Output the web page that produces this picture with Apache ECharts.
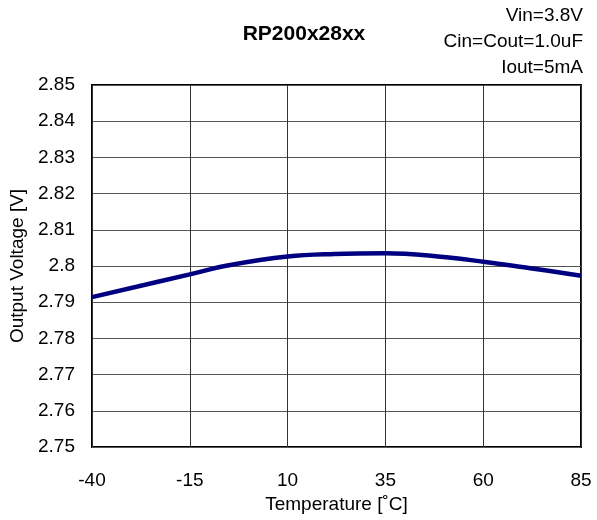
<!DOCTYPE html>
<html>
<head>
<meta charset="utf-8">
<script src="https://cdn.jsdelivr.net/npm/echarts@6/dist/echarts.min.js"></script>
<style>
  html, body { margin: 0; padding: 0; background: #fff; }
  #chart { width: 597px; height: 520px; }
</style>
</head>
<body>
<div id="chart"></div>
<script>
// 温度 [°C]
const temps = [-40, -15, -5, 10, 22, 35, 46, 60, 72, 85];
// 出力電圧 [V]
const vout = [2.7914, 2.7977, 2.8002, 2.8026, 2.8033, 2.8035, 2.8029, 2.8012, 2.7994, 2.7973];
const xTicks = [-40, -15, 10, 35, 60, 85];
const notes = ['Vin=3.8V', 'Cin=Cout=1.0uF', 'Iout=5mA'];

const FONT = '"Liberation Sans", Arial, sans-serif';
const chart = echarts.init(document.getElementById('chart'));

const option = {
    animation: false,
    textStyle: { fontFamily: FONT },
    title: {
        text: 'RP200x28xx',
        left: 299,
        top: 19,
        textAlign: 'center',
        textStyle: { fontSize: 21, fontWeight: 'bold', color: '#000', fontFamily: FONT }
    },
    graphic: notes.map((t, i) => ({
        type: 'text',
        right: 14,
        top: 6 + i * 26,
        style: { text: t, fontSize: 19, fill: '#000', fontFamily: FONT, align: 'right' }
    })),
    grid: {
        left: 92,
        right: 16,
        top: 85,
        bottom: 73,
        outerBoundsMode: 'none',
        containLabel: false,
        show: true,
        borderColor: '#000',
        borderWidth: 2
    },
    xAxis: {
        type: 'value',
        min: -40,
        max: 85,
        interval: 25,
        name: 'Temperature [˚C]',
        nameLocation: 'middle',
        nameGap: 45,
        nameTextStyle: { fontSize: 19, color: '#000', fontFamily: FONT },
        axisLine: { show: false },
        axisTick: { show: false },
        axisLabel: {
            fontSize: 19, color: '#000', margin: 24, fontFamily: FONT,
            formatter: v => xTicks.includes(v) ? String(v) : ''
        },
        splitLine: { show: true, lineStyle: { color: '#333', width: 1 } }
    },
    yAxis: {
        type: 'value',
        min: 2.75,
        max: 2.85,
        interval: 0.01,
        name: 'Output Voltage [V]',
        nameLocation: 'middle',
        nameGap: 65,
        nameTextStyle: { fontSize: 19, color: '#000', fontFamily: FONT },
        axisLine: { show: false },
        axisTick: { show: false },
        axisLabel: {
            fontSize: 19, color: '#000', margin: 17, fontFamily: FONT,
            formatter: v => String(parseFloat(v.toFixed(2)))
        },
        splitLine: { show: true, lineStyle: { color: '#555', width: 1 } }
    },
    series: [{
        type: 'line',
        data: temps.map((t, i) => [t, vout[i]]),
        smooth: 0.4,
        showSymbol: false,
        lineStyle: { color: '#000080', width: 4.5 }
    }]
};
chart.setOption(option);
</script>
</body>
</html>
